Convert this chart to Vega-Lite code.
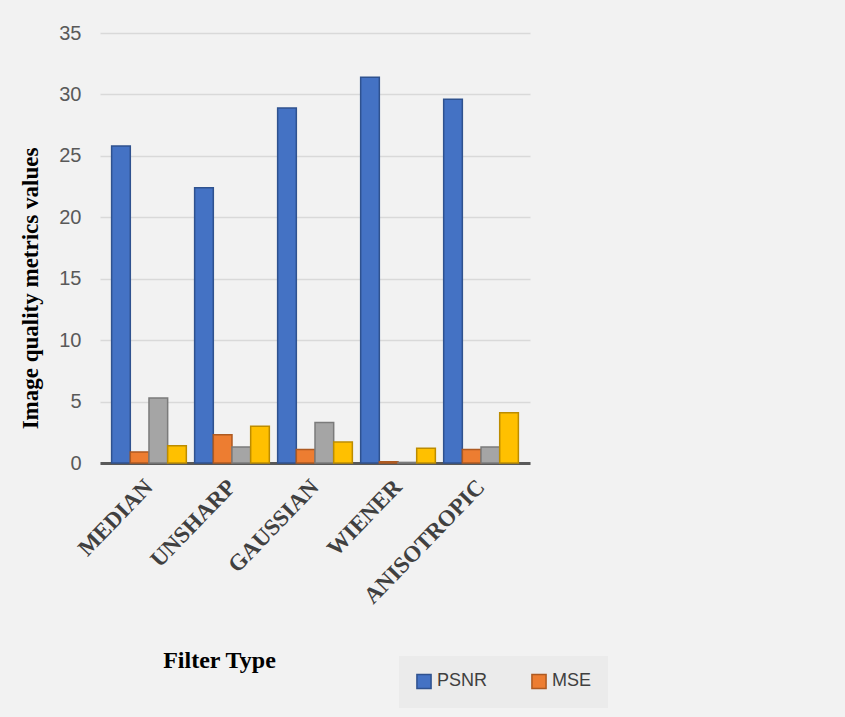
{
  "$schema": "https://vega.github.io/schema/vega-lite/v6.json",
  "width": 430,
  "height": 430,
  "autosize": "none",
  "padding": {"left": 100, "top": 33, "right": 315, "bottom": 254},
  "background": "#f2f2f2",
  "config": {"view": {"stroke": null}},
  "data": {"values": [
    {"filter": "MEDIAN", "metric": "PSNR", "value": 25.8},
    {"filter": "MEDIAN", "metric": "MSE", "value": 0.9},
    {"filter": "MEDIAN", "metric": "SSIM", "value": 5.3},
    {"filter": "MEDIAN", "metric": "RMSE", "value": 1.4},
    {"filter": "UNSHARP", "metric": "PSNR", "value": 22.4},
    {"filter": "UNSHARP", "metric": "MSE", "value": 2.3},
    {"filter": "UNSHARP", "metric": "SSIM", "value": 1.3},
    {"filter": "UNSHARP", "metric": "RMSE", "value": 3.0},
    {"filter": "GAUSSIAN", "metric": "PSNR", "value": 28.9},
    {"filter": "GAUSSIAN", "metric": "MSE", "value": 1.1},
    {"filter": "GAUSSIAN", "metric": "SSIM", "value": 3.3},
    {"filter": "GAUSSIAN", "metric": "RMSE", "value": 1.7},
    {"filter": "WIENER", "metric": "PSNR", "value": 31.4},
    {"filter": "WIENER", "metric": "MSE", "value": 0.1},
    {"filter": "WIENER", "metric": "SSIM", "value": 0.05},
    {"filter": "WIENER", "metric": "RMSE", "value": 1.2},
    {"filter": "ANISOTROPIC", "metric": "PSNR", "value": 29.6},
    {"filter": "ANISOTROPIC", "metric": "MSE", "value": 1.1},
    {"filter": "ANISOTROPIC", "metric": "SSIM", "value": 1.3},
    {"filter": "ANISOTROPIC", "metric": "RMSE", "value": 4.1}
  ]},
  "mark": {"type": "bar", "strokeWidth": 1.5},
  "encoding": {
    "x": {
      "field": "filter", "type": "nominal", "sort": null,
      "scale": {"paddingInner": 0.1, "paddingOuter": 0.14},
      "axis": {
        "title": "Filter Type",
        "titleFont": "Liberation Serif", "titleFontSize": 24, "titleFontWeight": "bold", "titleColor": "#000000",
        "titleX": 119, "titleY": 197, "titleAnchor": "middle", "titleBaseline": "middle",
        "labelAngle": -46, "labelAlign": "right", "labelBaseline": "middle",
        "labelFont": "Liberation Serif", "labelFontSize": 23, "labelFontWeight": "bold", "labelColor": "#404040",
        "labelPadding": 20,
        "ticks": false,
        "domainColor": "#595959", "domainWidth": 3
      }
    },
    "xOffset": {"field": "metric", "type": "nominal", "sort": ["PSNR", "MSE", "SSIM", "RMSE"], "scale": {"paddingInner": 0, "paddingOuter": 0}},
    "y": {
      "field": "value", "type": "quantitative",
      "scale": {"domain": [0, 35], "nice": false},
      "axis": {
        "title": "Image quality metrics values",
        "titleFont": "Liberation Serif", "titleFontSize": 23, "titleFontWeight": "bold", "titleColor": "#000000",
        "titleY": 255, "titleAnchor": "middle", "titleX": -58,
        "values": [0, 5, 10, 15, 20, 25, 30, 35],
        "labelFont": "Liberation Sans", "labelFontSize": 20, "labelColor": "#595959", "labelPadding": 19,
        "domain": false, "ticks": false,
        "gridColor": "#d9d9d9", "gridWidth": 1.5
      }
    },
    "color": {
      "field": "metric", "type": "nominal",
      "scale": {"domain": ["PSNR", "MSE", "SSIM", "RMSE"], "range": ["#4472C4", "#ED7D31", "#A5A5A5", "#FFC000"]},
      "legend": {
        "title": null, "values": ["PSNR", "MSE"], "orient": "none", "direction": "horizontal",
        "legendX": 299, "legendY": 623,
        "symbolType": "square", "symbolSize": 200, "symbolStrokeWidth": 1.5,
        "labelFont": "Liberation Sans", "labelFontSize": 18, "labelColor": "#404040",
        "columnPadding": 40, "fillColor": "#ebebeb", "padding": 16
      }
    },
    "stroke": {
      "field": "metric", "type": "nominal",
      "scale": {"domain": ["PSNR", "MSE", "SSIM", "RMSE"], "range": ["#2F528F", "#AE5A21", "#7B7B7B", "#BC8C00"]},
      "legend": null
    }
  }
}
